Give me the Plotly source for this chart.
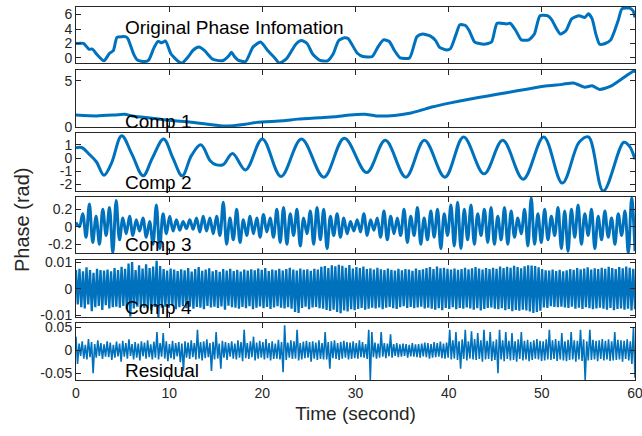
import numpy as np
import plotly.graph_objects as go

# ---------------- data ----------------
t_orig = [0.0, 0.8, 1.4, 1.72, 2.0, 2.2, 3.0, 3.6, 4.0, 4.4, 4.92, 5.4, 5.6, 6.2, 6.6, 7.4, 7.8, 8.4, 8.8, 9.2,
          9.6, 10.2, 11.0, 11.4, 12.0, 12.6, 13.2, 13.8, 14.6, 15.0, 15.8, 16.4, 16.68, 17.0, 17.4, 18.2, 19.0, 19.8,
          20.6, 21.4, 21.8, 22.6, 23.6, 24.2, 24.8, 25.4, 26.2, 27.0, 27.6, 28.2, 28.8, 29.2, 30.2, 30.8, 31.8, 32.4,
          33.0, 33.6, 34.2, 34.8, 35.8, 36.6, 37.2, 38.0, 38.6, 39.0, 39.8, 40.2, 40.8, 41.2, 41.8, 42.2, 42.8, 43.8,
          44.6, 45.2, 46.2, 46.6, 47.2, 47.8, 48.6, 49.2, 49.8, 50.6, 51.0, 51.6, 52.0, 52.6, 53.2, 54.0, 54.6, 55.0,
          55.4, 55.8, 56.2, 56.8, 57.4, 58.2, 58.6, 59.4, 59.8, 60.0]
v_orig = [2.0, 2.0, 1.2, 1.25, 0.9, 0.55, -0.4, 0.65, 1.0, 2.85, 2.95, 2.9, 2.6, 0.5, -0.3, -0.5, -0.3, 1.5, 2.3, 2.1,
          2.35, 0.55, -0.5, -0.7, 0.1, 1.1, 1.5, 1.0, -0.1, -0.3, -0.35, 0.3, 0.8, 0.2, -0.3, -0.5, 1.5, 2.2,
          1.0, -0.1, -0.7, -0.1, 1.9, 2.4, 2.0, 0.55, -0.35, -0.4, 0.55, 2.4, 2.8, 2.7, 0.65, 0.2, 0.2, 1.5,
          2.5, 2.3, 1.0, 0.0, 0.0, 2.95, 3.3, 3.05, 2.4, 1.5, 1.1, 1.3, 3.3, 4.6, 4.5, 3.8, 2.2, 1.9,
          2.2, 4.8, 4.7, 4.8, 3.8, 2.5, 2.5, 3.3, 5.85, 5.85, 5.4, 4.0, 3.3, 3.8, 5.4, 5.85, 5.6, 6.1,
          5.4, 3.3, 1.9, 2.0, 2.5, 5.2, 6.8, 6.9, 6.5, 5.6]

t_comp1 = [0.0, 2.2, 4.2, 5.2, 6.2, 8.2, 10.2, 12.2, 14.2, 16.0, 18.2, 19.4, 22.2, 23.8, 26.2, 27.8, 29.4, 31.0,
           32.2, 34.2, 35.8, 37.0, 38.2, 40.2, 42.2, 44.2, 46.2, 48.2, 50.2, 52.2, 53.4, 54.6, 55.4, 56.2, 57.4,
           58.6, 59.8, 60.0]
v_comp1 = [1.3, 1.2, 1.3, 1.37, 1.15, 0.95, 0.7, 0.55, 0.3, 0.1, 0.3, 0.5, 0.67, 0.85, 1.0, 1.1, 1.3, 1.37,
           1.2, 1.25, 1.48, 1.8, 2.15, 2.6, 3.0, 3.35, 3.7, 4.05, 4.4, 4.6, 4.75, 4.3, 4.45, 4.05, 4.4,
           5.2, 6.0, 6.0]

t_comp2 = [0.0, 0.6, 1.4, 2.2, 3.0, 3.8, 4.9, 6.0, 7.2, 8.2, 9.4, 10.4, 11.4, 12.4, 13.4, 14.4, 15.0, 15.8, 16.8,
           18.2, 20.0, 22.0, 24.2, 26.6, 28.8, 31.2, 33.2, 35.4, 37.4, 39.6, 41.6, 43.8, 45.8, 48.0, 50.2, 52.2,
           54.0, 55.0, 56.6, 58.8, 59.4, 60.0]
v_comp2 = [0.78, 0.8, 0.3, -0.3, -1.3, -0.4, 1.7, 0.3, -1.35, 0.0, 1.45, 0.0, -1.35, 0.2, 1.0, -0.2, -0.5, -0.5, 0.35,
           -0.9, 1.45, -1.4, 1.45, -1.45, 1.5, -1.1, 1.35, -1.45, 1.35, -1.45, 1.6, -1.2, 1.35, -1.6, 1.6, -1.9,
           1.2, 1.6, -2.5, 1.2, 0.9, -0.1]

v_comp3 = [0.05, 0.0, 0.15, -0.12, 0.26, -0.18, 0.12, -0.2, 0.2, -0.1, 0.22, -0.3, 0.3, -0.15,
           0.1, -0.08, 0.12, -0.1, 0.08, -0.05, 0.1, -0.12, 0.06, -0.2, 0.25, -0.25, 0.15, -0.08,
           0.12, -0.05, 0.08, -0.04, 0.06, -0.02, 0.08, -0.03, 0.1, -0.06, 0.12, -0.05, 0.1, -0.08,
           0.12, -0.1, 0.28, -0.2, 0.1, -0.15, 0.2, -0.18, 0.08, -0.1, 0.12, -0.08, 0.1, -0.12,
           0.14, -0.06, 0.1, -0.12, 0.2, -0.18, 0.22, -0.2, 0.15, -0.1, 0.2, -0.22, 0.1, -0.08,
           0.18, -0.2, 0.22, -0.15, 0.2, -0.25, 0.12, -0.1, 0.15, -0.12, 0.1, -0.08, 0.06, -0.05,
           0.08, -0.06, 0.15, -0.1, 0.08, -0.04, 0.1, -0.12, 0.18, -0.15, 0.12, -0.08, 0.1, -0.1,
           0.2, -0.18, 0.12, -0.1, 0.22, -0.2, 0.1, -0.15, 0.18, -0.12, 0.2, -0.25, 0.15, -0.1,
           0.25, -0.22, 0.28, -0.25, 0.2, -0.15, 0.25, -0.2, 0.15, -0.1, 0.2, -0.18, 0.22, -0.2,
           0.12, -0.15, 0.22, -0.2, 0.18, -0.12, 0.1, -0.08, 0.2, -0.22, 0.33, -0.2, 0.15, -0.18,
           0.2, -0.15, 0.12, -0.1, 0.22, -0.25, 0.18, -0.28, 0.2, -0.12, 0.25, -0.2, 0.15, -0.1,
           0.2, -0.25, 0.12, -0.15, 0.18, -0.12, 0.1, -0.2, 0.15, -0.1, 0.18, -0.3, 0.33, -0.28]

v_comp4 = [0.007, -0.006, 0.0075, -0.007, 0.0065, -0.0075, 0.008, -0.006, 0.007, -0.0085, 0.006, -0.007, 0.0075, -0.0065, 0.007, -0.008, 0.0068, -0.0062, 0.0072, -0.0075,
           0.0065, -0.007, 0.0078, -0.0068, 0.007, -0.0072, 0.0082, -0.0065, 0.0075, -0.0078, 0.0095, -0.0105, 0.01, -0.0075, 0.007, -0.0068, 0.0088, -0.007, 0.0076, -0.0072,
           0.0092, -0.0075, 0.0078, -0.0082, 0.0083, -0.0069, 0.0105, -0.0108, 0.0085, -0.0072, 0.0074, -0.0068, 0.0068, -0.0072, 0.0076, -0.0064, 0.0072, -0.0078, 0.0066, -0.007,
           0.0073, -0.0066, 0.0069, -0.0074, 0.0078, -0.0068, 0.0064, -0.0076, 0.0074, -0.0069, 0.0081, -0.0072, 0.0067, -0.0078, 0.0072, -0.0065, 0.0077, -0.0071, 0.0065, -0.0068,
           0.007, -0.0073, 0.0063, -0.0067, 0.0074, -0.0079, 0.0068, -0.0064, 0.0075, -0.007, 0.0066, -0.0072, 0.0071, -0.0076, 0.0064, -0.0069, 0.0072, -0.0074, 0.0068, -0.0066,
           0.0073, -0.0078, 0.0069, -0.0072, 0.0076, -0.0067, 0.0071, -0.0074, 0.0078, -0.0069, 0.0066, -0.0077, 0.0072, -0.0071, 0.0069, -0.0066, 0.0075, -0.0072, 0.0068, -0.0075,
           0.0074, -0.007, 0.0079, -0.0076, 0.0072, -0.0088, 0.0068, -0.0092, 0.0076, -0.0073, 0.0071, -0.0068, 0.0073, -0.0078, 0.0067, -0.0071, 0.0075, -0.0069, 0.0072, -0.0074,
           0.0082, -0.0076, 0.0085, -0.008, 0.0078, -0.0084, 0.0088, -0.0079, 0.0084, -0.0088, 0.009, -0.0093, 0.0086, -0.0082, 0.0079, -0.0086, 0.0089, -0.0078, 0.0076, -0.0081,
           0.0081, -0.0077, 0.0078, -0.0073, 0.0083, -0.0079, 0.0074, -0.0076, 0.0077, -0.0072, 0.0072, -0.0075, 0.0079, -0.0071, 0.0073, -0.0078, 0.007, -0.0072, 0.0076, -0.0069,
           0.0071, -0.0074, 0.0068, -0.0077, 0.0075, -0.007, 0.0069, -0.0066, 0.0074, -0.0073, 0.0072, -0.0069, 0.0067, -0.0074, 0.0076, -0.0071, 0.007, -0.0068, 0.0073, -0.0075,
           0.0078, -0.0072, 0.0081, -0.0076, 0.0074, -0.0079, 0.0083, -0.0074, 0.0077, -0.0081, 0.0079, -0.0073, 0.0075, -0.0077, 0.0072, -0.007, 0.0076, -0.0078, 0.0071, -0.0073,
           0.0074, -0.0076, 0.0079, -0.0071, 0.0073, -0.0075, 0.0077, -0.0079, 0.0081, -0.0074, 0.0076, -0.0082, 0.0072, -0.0077, 0.0078, -0.0073, 0.0074, -0.0071, 0.0079, -0.0076,
           0.0075, -0.0078, 0.0083, -0.0074, 0.0078, -0.0081, 0.0082, -0.0077, 0.0079, -0.0085, 0.0086, -0.008, 0.0081, -0.0083, 0.0077, -0.0079, 0.0084, -0.0082, 0.0088, -0.0086,
           0.0087, -0.0092, 0.0085, -0.0088, 0.008, -0.0083, 0.0074, -0.0071, 0.0069, -0.0073, 0.0068, -0.0066, 0.0072, -0.0069, 0.0066, -0.007, 0.0071, -0.0068, 0.0065, -0.0071,
           0.0069, -0.0073, 0.0074, -0.0068, 0.0071, -0.0076, 0.0078, -0.0072, 0.0073, -0.0077, 0.0076, -0.007, 0.008, -0.0074, 0.0072, -0.0078, 0.0077, -0.0075, 0.0074, -0.0072,
           0.0079, -0.0076, 0.0075, -0.0079, 0.0082, -0.0073, 0.0078, -0.0081, 0.0074, -0.0077, 0.0081, -0.0075, 0.0077, -0.0079, 0.0083, -0.0076, 0.0079, -0.0082, 0.0075, -0.0078]

v_resid = [0.03, -0.03, 0.015, -0.012, 0.02, -0.018, 0.012, -0.02, 0.025, -0.015, 0.018, -0.05, 0.014, -0.016, 0.022, -0.012, 0.016, -0.019, 0.013, -0.014,
           0.02, -0.015, 0.017, -0.021, 0.012, -0.016, 0.019, -0.013, 0.015, -0.025, 0.021, -0.014, 0.016, -0.018, 0.024, -0.012, 0.014, -0.02, 0.018, -0.016,
           0.015, -0.022, 0.02, -0.013, 0.017, -0.018, 0.022, -0.015, 0.013, -0.02, 0.019, -0.016, 0.04, -0.02, 0.016, -0.014, 0.038, -0.018, 0.02, -0.024,
           0.014, -0.017, 0.021, -0.02, 0.016, -0.013, 0.018, -0.026, 0.015, -0.045, 0.02, -0.016, 0.017, -0.019, 0.022, -0.015, 0.016, -0.02, 0.045, -0.018,
           0.018, -0.022, 0.02, -0.017, 0.024, -0.015, 0.016, -0.045, 0.019, -0.02, 0.04, -0.018, 0.015, -0.04, 0.021, -0.016, 0.018, -0.021, 0.016, -0.014,
           0.02, -0.018, 0.015, -0.02, 0.022, -0.016, 0.018, -0.024, 0.045, -0.017, 0.016, -0.019, 0.02, -0.015, 0.03, -0.022, 0.017, -0.018, 0.021, -0.016,
           0.018, -0.02, 0.025, -0.017, 0.016, -0.022, 0.02, -0.019, 0.015, -0.018, 0.023, -0.02, 0.018, -0.048, 0.055, -0.021, 0.017, -0.016, 0.022, -0.019,
           0.02, -0.018, 0.045, -0.022, 0.016, -0.02, 0.019, -0.017, 0.021, -0.016, 0.018, -0.025, 0.02, -0.018, 0.017, -0.021, 0.022, -0.019, 0.016, -0.02,
           0.04, -0.02, 0.018, -0.04, 0.02, -0.017, 0.022, -0.019, 0.016, -0.021, 0.019, -0.018, 0.021, -0.016, 0.018, -0.02, 0.017, -0.019, 0.02, -0.017,
           0.016, -0.018, 0.022, -0.015, 0.018, -0.016, 0.014, -0.019, 0.045, -0.065, 0.04, -0.015, 0.017, -0.018, 0.015, -0.016, 0.04, -0.014, 0.016, -0.017,
           0.015, -0.013, 0.035, -0.016, 0.014, -0.012, 0.016, -0.015, 0.013, -0.014, 0.015, -0.012, 0.014, -0.016, 0.012, -0.013, 0.016, -0.014, 0.013, -0.015,
           0.014, -0.016, 0.015, -0.013, 0.017, -0.015, 0.016, -0.018, 0.014, -0.016, 0.018, -0.015, 0.016, -0.014, 0.019, -0.017, 0.015, -0.018, 0.017, -0.016,
           0.045, -0.02, 0.022, -0.018, 0.04, -0.021, 0.02, -0.04, 0.024, -0.019, 0.045, -0.022, 0.02, -0.018, 0.042, -0.02, 0.025, -0.021, 0.038, -0.019,
           0.022, -0.025, 0.045, -0.02, 0.021, -0.019, 0.04, -0.023, 0.02, -0.021, 0.024, -0.05, 0.045, -0.02, 0.022, -0.024, 0.04, -0.019, 0.021, -0.022,
           0.038, -0.021, 0.02, -0.025, 0.024, -0.019, 0.04, -0.022, 0.021, -0.02, 0.023, -0.024, 0.019, -0.021, 0.022, -0.018, 0.025, -0.02, 0.021, -0.023,
           0.02, -0.022, 0.024, -0.02, 0.045, -0.021, 0.022, -0.019, 0.025, -0.023, 0.021, -0.02, 0.038, -0.022, 0.02, -0.024, 0.023, -0.021, 0.04, -0.02,
           0.022, -0.025, 0.021, -0.02, 0.045, -0.023, 0.024, -0.065, 0.02, -0.022, 0.045, -0.021, 0.023, -0.02, 0.021, -0.024, 0.022, -0.019, 0.025, -0.022,
           0.021, -0.02, 0.024, -0.023, 0.02, -0.022, 0.04, -0.021, 0.023, -0.02, 0.022, -0.025, 0.021, -0.019, 0.024, -0.022, 0.02, -0.03, 0.05, -0.06]

# uniform sampling grids for the dense components
t_comp3 = np.linspace(0, 60, len(v_comp3))
t_comp4 = np.linspace(0, 60, len(v_comp4))
t_resid = np.linspace(0, 60, len(v_resid))

panel_labels = ["Original Phase Infomation", "Comp 1", "Comp 2", "Comp 3", "Comp 4", "Residual"]
y_ranges = [[-0.7, 7.05], [0, 6.15], [-2.5, 1.9], [-0.30, 0.34], [-0.0107, 0.0108], [-0.065, 0.06]]
y_tickvals = [[0, 2, 4, 6], [0, 5], [-2, -1, 0, 1], [-0.2, 0, 0.2], [-0.01, 0, 0.01], [-0.05, 0, 0.05]]
y_ticktext = [["0", "2", "4", "6"], ["0", "5"], ["-2", "-1", "0", "1"], ["-0.2", "0", "0.2"],
              ["-0.01", "0", "0.01"], ["-0.05", "0", "0.05"]]
x_ticks = [0, 10, 20, 30, 40, 50, 60]

# ---------------- figure ----------------
BLUE = "#0072BD"
AX = "#262626"
FONT = "Liberation Sans, Arial, sans-serif"
W, H = 642, 436
L, R = 76, 635
TOP, BOT = 7, 380  # plot area in px
panels_px = [(7, 63), (70, 127), (133, 191), (197, 253), (260, 317), (323, 380)]

series = [(t_orig, v_orig, 3, "spline", 0.6), (t_comp1, v_comp1, 3, "spline", 0.6),
          (t_comp2, v_comp2, 3, "spline", 1.0), (t_comp3, v_comp3, 3, "spline", 1.0),
          (t_comp4, v_comp4, 2.3, "linear", 0), (t_resid, v_resid, 1.6, "linear", 0)]

fig = go.Figure()
layout = dict(
    width=W, height=H, paper_bgcolor="white", plot_bgcolor="white",
    margin=dict(l=L, r=W - R, t=TOP, b=H - BOT, autoexpand=False),
    showlegend=False, font=dict(family=FONT, size=14, color=AX),
)
annotations = []
for i, (tx, vy, lw, shape, sm) in enumerate(series):
    sfx = "" if i == 0 else str(i + 1)
    line = dict(color=BLUE, width=lw, shape=shape)
    if shape == "spline":
        line["smoothing"] = sm
    fig.add_trace(go.Scatter(x=tx, y=vy, mode="lines", xaxis="x" + sfx, yaxis="y" + sfx,
                             line=line, hoverinfo="skip"))
    top, bot = panels_px[i]
    dom = [(BOT - bot) / (BOT - TOP), (BOT - top) / (BOT - TOP)]
    last = i == len(series) - 1
    layout["xaxis" + sfx] = dict(
        domain=[0, 1], anchor="y" + sfx, range=[0, 60], tickvals=x_ticks,
        showticklabels=last, ticks="inside", ticklen=5, tickcolor=AX,
        showline=True, mirror="allticks", linecolor=AX, linewidth=1, automargin=False,
        showgrid=False, zeroline=False, tickfont=dict(size=14, color=AX),
        ticklabeloverflow="allow",
    )
    layout["yaxis" + sfx] = dict(
        domain=dom, anchor="x" + sfx, range=y_ranges[i], tickvals=y_tickvals[i], ticktext=y_ticktext[i],
        ticks="inside", ticklen=5, tickcolor=AX, showline=True, mirror="allticks", linecolor=AX,
        linewidth=1, showgrid=False, zeroline=False, automargin=False, tickfont=dict(size=14, color=AX),
        ticklabeloverflow="allow",
    )
    label_y_px = [27, 121, 182, 244, 307, 370][i]
    annotations.append(dict(text=panel_labels[i], x=5, xref="x", y=(BOT - label_y_px) / (BOT - TOP),
                            yref="paper", xanchor="left", yanchor="middle", showarrow=False,
                            font=dict(family=FONT, size=19, color="black")))

layout["xaxis6"]["title"] = dict(text="Time (second)", font=dict(size=19, color=AX), standoff=6)
annotations.append(dict(text="Phase (rad)", x=(22 - L) / (R - L), xref="paper",
                        y=(BOT - 220) / (BOT - TOP), yref="paper", textangle=-90,
                        xanchor="center", yanchor="middle", showarrow=False,
                        font=dict(family=FONT, size=20, color=AX)))
layout["annotations"] = annotations
fig.update_layout(**layout)

fig.write_html("out.html", config={"displayModeBar": False},
               post_script="document.body.style.margin='0';")
